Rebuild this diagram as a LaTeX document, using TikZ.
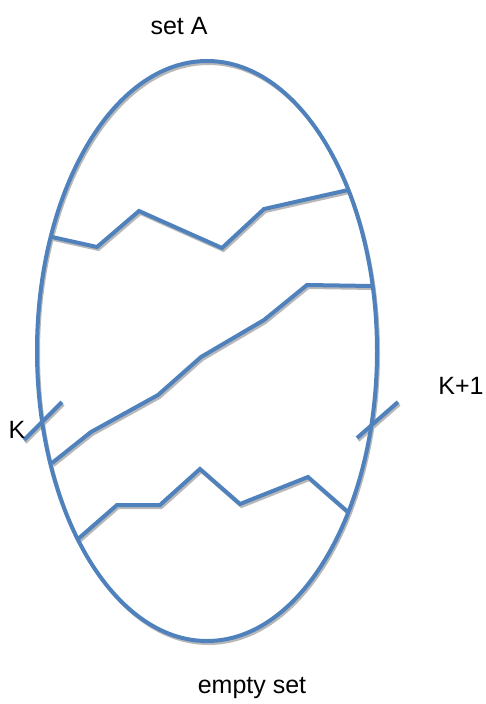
\documentclass[tikz,border=0pt]{standalone}
\usepackage{fontspec}
\setmainfont{Liberation Sans}
\definecolor{lineblue}{HTML}{4F81BD}
\definecolor{shade}{HTML}{B8B8B8}
\tikzset{
  bl/.style={draw=lineblue, line width=4pt, line join=miter},
  sh/.style={draw=shade, line width=3pt, line join=miter},
  lbl/.style={font=\fontsize{25}{29}\selectfont, inner sep=0pt}
}
\begin{document}
\begin{tikzpicture}[x=1pt,y=-1pt]
\useasboundingbox (0,0) rectangle (486,704);
% shadows
\begin{scope}[shift={(1.5,2.5)}]
\draw[sh] (207,351) ellipse [x radius=170, y radius=290];
\draw[sh] (52,237) -- (97,247) -- (139,211) -- (222,248) -- (264,209) -- (348,190);
\draw[sh] (52,463) -- (91,432) -- (158,395) -- (201,357) -- (264,320) -- (307,285) -- (372,286);
\draw[sh] (78,539) -- (117,505) -- (160,505) -- (200,469) -- (240,504) -- (308,477) -- (348,512);
\draw[sh] (24,440) -- (62,402);
\draw[sh] (357,438) -- (398,402);
\end{scope}
% main lines
\draw[bl] (207,351) ellipse [x radius=170, y radius=290];
\draw[bl] (52,237) -- (97,247) -- (139,211) -- (222,248) -- (264,209) -- (348,190);
\draw[bl] (52,463) -- (91,432) -- (158,395) -- (201,357) -- (264,320) -- (307,285) -- (372,286);
\draw[bl] (78,539) -- (117,505) -- (160,505) -- (200,469) -- (240,504) -- (308,477) -- (348,512);
\draw[bl] (24,440) -- (62,402);
\draw[bl] (357,438) -- (398,402);
% labels
\node[lbl] (setA) at (179,26) {set A};
\node[lbl] (empty) at (252,688) {empty set};
\node[lbl] (K) at (17,430) {K};
\node[lbl] (K1) at (461,386) {K+1};
\end{tikzpicture}
\end{document}
